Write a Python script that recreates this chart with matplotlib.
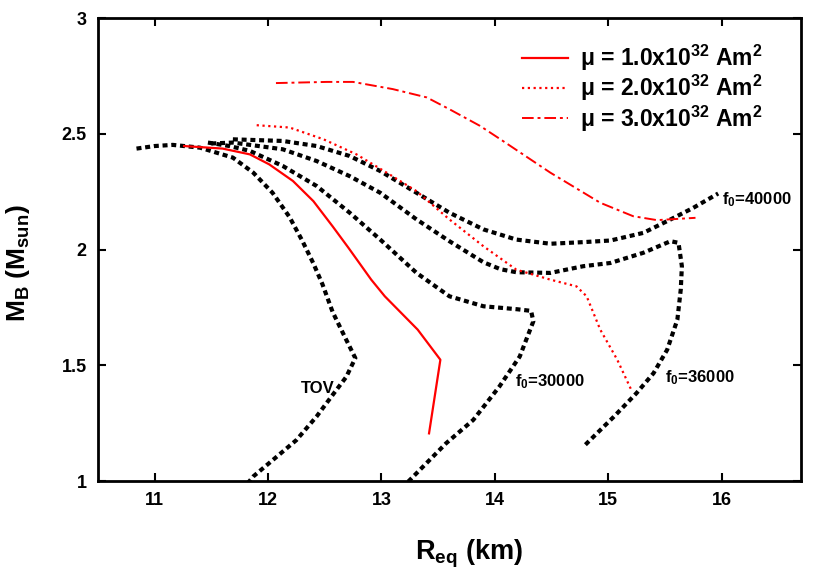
import matplotlib
matplotlib.use("Agg")
import matplotlib.pyplot as plt

plt.rcParams['font.family'] = ['Liberation Sans', 'DejaVu Sans']
plt.rcParams['font.weight'] = 'bold'
plt.rcParams['mathtext.fontset'] = 'custom'
plt.rcParams['mathtext.rm'] = 'Liberation Sans:bold'
plt.rcParams['mathtext.bf'] = 'Liberation Sans:bold'
plt.rcParams['mathtext.it'] = 'Liberation Sans:bold'
plt.rcParams['mathtext.default'] = 'bf'

# TOV
tov_r = [10.84, 11.0, 11.16, 11.40, 11.69, 11.87, 12.04, 12.19, 12.30, 12.40, 12.48, 12.57, 12.69, 12.77,
         12.69, 12.57, 12.43, 12.25, 12.04, 11.87, 11.82]
tov_m = [2.436, 2.447, 2.452, 2.44, 2.397, 2.332, 2.245, 2.14, 2.04, 1.94, 1.85, 1.73, 1.61, 1.531,
         1.45, 1.372, 1.28, 1.177, 1.09, 1.02, 0.99]

# f0 = 30000
f30_r = [11.47, 11.66, 11.84, 12.13, 12.43, 12.72, 12.99, 13.31, 13.60, 13.90, 14.20, 14.32, 14.34,
         14.22, 14.04, 13.81, 13.57, 13.28, 13.20]
f30_m = [2.462, 2.447, 2.426, 2.361, 2.274, 2.159, 2.043, 1.899, 1.798, 1.755, 1.742, 1.735, 1.69,
         1.538, 1.408, 1.264, 1.163, 1.019, 0.98]

# f0 = 36000
f36_r = [11.50, 11.69, 12.13, 12.43, 12.72, 12.99, 13.31, 13.60, 13.90, 14.05, 14.19, 14.49, 14.78, 15.02,
         15.31, 15.55, 15.62, 15.65, 15.64, 15.61, 15.52, 15.40, 15.25, 15.05, 14.78]
f36_m = [2.458, 2.462, 2.433, 2.382, 2.317, 2.245, 2.13, 2.036, 1.945, 1.915, 1.902, 1.899, 1.928, 1.942,
         1.986, 2.036, 2.029, 1.928, 1.827, 1.697, 1.567, 1.466, 1.38, 1.278, 1.148]

# f0 = 40000
f40_r = [11.69, 12.13, 12.43, 12.72, 12.99, 13.31, 13.60, 13.90, 14.19, 14.49, 14.78, 15.02, 15.31,
         15.55, 15.75, 15.97]
f40_m = [2.476, 2.469, 2.447, 2.404, 2.339, 2.245, 2.159, 2.087, 2.043, 2.025, 2.032, 2.039, 2.072,
         2.13, 2.18, 2.242]

# mu = 1.0e32
mu1_r = [11.26, 11.60, 11.84, 12.01, 12.22, 12.40, 12.57, 12.71, 12.91, 13.03, 13.32, 13.52, 13.42]
mu1_m = [2.447, 2.436, 2.411, 2.368, 2.296, 2.209, 2.10, 2.007, 1.87, 1.798, 1.654, 1.524, 1.206]

# mu = 2.0e32
mu2_r = [11.90, 12.19, 12.49, 12.78, 13.07, 13.31, 13.60, 13.90, 14.19, 14.49, 14.72, 14.81, 14.93,
         15.08, 15.21]
mu2_m = [2.537, 2.527, 2.476, 2.411, 2.325, 2.252, 2.13, 2.014, 1.913, 1.87, 1.841, 1.798, 1.654,
         1.524, 1.387]

# mu = 3.0e32
mu3_r = [12.07, 12.52, 12.75, 13.10, 13.40, 13.60, 13.87, 14.05, 14.49, 14.93, 15.22, 15.43, 15.77]
mu3_m = [2.719, 2.724, 2.724, 2.693, 2.657, 2.606, 2.534, 2.476, 2.332, 2.202, 2.144, 2.127, 2.137]

x_ticks = [11, 12, 13, 14, 15, 16]
y_ticks = [1, 1.5, 2, 2.5, 3]
y_tick_labels = ['1', '1.5', '2', '2.5', '3']

fig = plt.figure(figsize=(8.3, 5.81), dpi=100)
ax = fig.add_axes([0.118, 0.172, 0.847, 0.797])

blk = dict(color='black', lw=3.0, ls=(0, (1.2, 0.9)), dash_capstyle='butt')
for r, m in [(tov_r, tov_m), (f30_r, f30_m), (f36_r, f36_m), (f40_r, f40_m)]:
    ax.plot(r, m, **blk)

l1, = ax.plot(mu1_r, mu1_m, color='red', lw=1.6, ls='-')
l2, = ax.plot(mu2_r, mu2_m, color='red', lw=1.6, ls=(0, (1, 1.6)))
l3, = ax.plot(mu3_r, mu3_m, color='red', lw=1.4, ls=(0, (6, 2, 1.5, 2)))

ax.legend([l1, l2, l3],
          ['μ = 1.0x10$^{32}$ Am$^2$', 'μ = 2.0x10$^{32}$ Am$^2$', 'μ = 3.0x10$^{32}$ Am$^2$'],
          loc='upper right', bbox_to_anchor=(762 / 830, 1 - 43 / 581), bbox_transform=fig.transFigure,
          frameon=False, fontsize=16.5, borderpad=0, borderaxespad=0,
          handlelength=2.0, handletextpad=0.5, labelspacing=0.0)

ax.text(12.44, 1.40, 'TOV', fontsize=12, fontweight='bold', ha='center', va='center')
ax.text(14.49, 1.43, 'f$_0$=30000', fontsize=12, fontweight='bold', ha='center', va='center')
ax.text(15.81, 1.446, 'f$_0$=36000', fontsize=12, fontweight='bold', ha='center', va='center')
ax.text(16.0, 2.216, 'f$_0$=40000', fontsize=12, fontweight='bold', ha='left', va='center')

ax.set_xlim(10.5, 16.7)
ax.set_ylim(1, 3)
ax.set_xticks(x_ticks)
ax.set_yticks(y_ticks)
ax.set_yticklabels(y_tick_labels)
ax.tick_params(direction='in', length=6, width=1.5, top=True, right=True, labelsize=13, pad=8)
for lab in ax.get_xticklabels() + ax.get_yticklabels():
    lab.set_fontweight('bold')
for s in ax.spines.values():
    s.set_linewidth(2)

ax.set_xlabel('R$_{eq}$ (km)', fontsize=19.5, fontweight='bold')
ax.set_ylabel('M$_B$ (M$_{sun}$)', fontsize=19, fontweight='bold')
ax.xaxis.set_label_coords(0.528, -0.122)
ax.yaxis.set_label_coords(-0.094, 0.47)

fig.savefig('out.png', dpi=100)
